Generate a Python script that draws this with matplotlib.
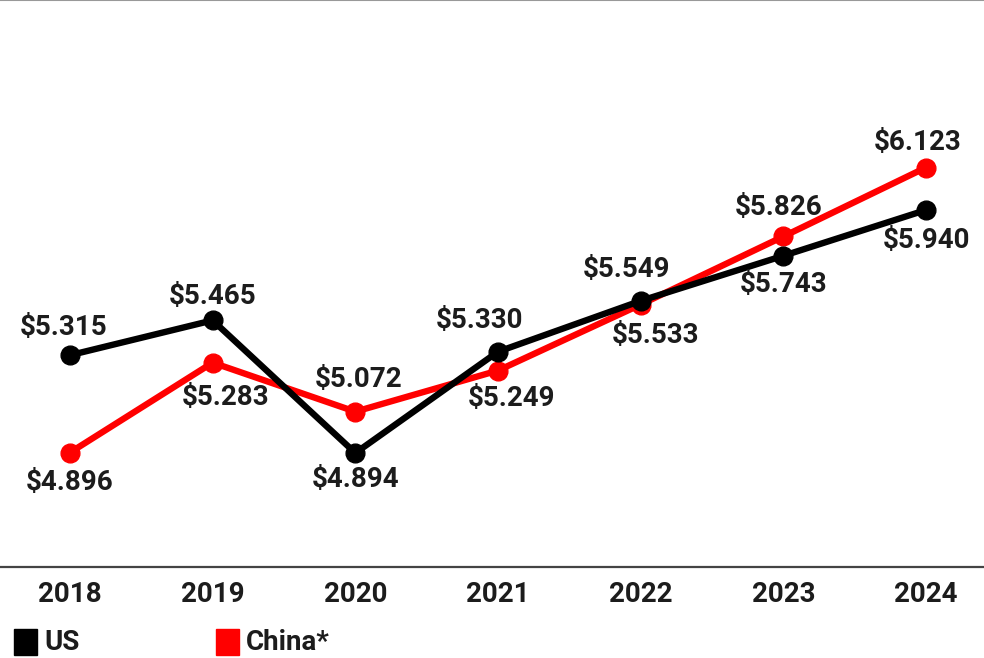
import matplotlib
matplotlib.use("Agg")
from matplotlib import pyplot as plt
from matplotlib.patches import Rectangle

years = ['2018', '2019', '2020', '2021', '2022', '2023', '2024']
us = [5.315, 5.465, 4.894, 5.330, 5.549, 5.743, 5.940]
china = [4.896, 5.283, 5.072, 5.249, 5.533, 5.826, 6.123]

# label offsets in pixels (dx, dy) relative to each point
us_off = [(-6, 28), (0, 24), (0, -27), (-18, 31), (-14, 31), (0, -29), (0, -30)]
china_off = [(0, -30), (13, -35), (3, 32), (14, -28), (15, -31), (-5, 29), (-8, 25)]

font = {'family': 'Roboto', 'weight': 'bold', 'size': 20, 'color': '#1c1c1c'}

fig = plt.figure(figsize=(9.84, 6.58), dpi=100)
ax = fig.add_axes([0, 1 - 567/658, 1, 567/658])

x = list(range(len(years)))
ax.plot(x, china, color='#ff0000', lw=4.6, marker='o', ms=13.5, solid_capstyle='round', zorder=3)
ax.plot(x, us, color='black', lw=4.6, marker='o', ms=13.5, solid_capstyle='round', zorder=4)

for vals, offs in [(us, us_off), (china, china_off)]:
	for i, v in enumerate(vals):
		ax.annotate('$%.3f' % v, (i, v), xytext=offs[i], textcoords='offset pixels',
					ha='center', va='center', zorder=5, **font)

ax.set_xlim(-70/142.67, 6 + 58/142.67)
ax.set_ylim(4.894 - 114/232.3, 4.894 + 453/232.3)
ax.set_yticks([])
ax.set_xticks(x)
ax.set_xticklabels(years)
for label in ax.get_xticklabels():
	label.set_fontfamily('Roboto')
	label.set_fontweight('bold')
	label.set_fontsize(20)
	label.set_color('#1c1c1c')
ax.tick_params(axis='x', length=0, pad=10)

ax.spines[['left', 'right']].set_visible(False)
ax.spines['bottom'].set_color('#444444')
ax.spines['bottom'].set_linewidth(1.6)
ax.spines['top'].set_color('#999999')
ax.spines['top'].set_linewidth(1.5)

# legend squares drawn directly on the figure
W, H = 984., 658.
for (x0, col, txt, tx) in [(14, 'black', 'US', 44), (216, '#ff0000', 'China*', 246)]:
	fig.patches.append(Rectangle((x0/W, 1 - 655/H), 23/W, 26/H, transform=fig.transFigure,
								 color=col, figure=fig))
	fig.text(tx/W, 1 - 642/H, txt, ha='left', va='center', **font)

plt.savefig('out.png', dpi=100)
